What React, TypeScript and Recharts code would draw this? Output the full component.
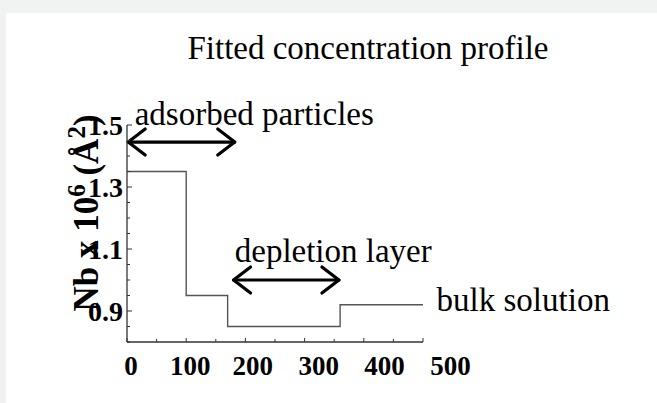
import React from 'react';
import { LineChart, Line, XAxis, YAxis, ReferenceLine, ReferenceDot } from 'recharts';

// step profile: thickness (x) vs Nb x 10^6
const stepX = [0, 100, 170, 360, 500];
const stepNb = [1.35, 0.95, 0.85, 0.92, 0.92];

const xTicks = [0, 50, 100, 150, 200, 250, 300, 350, 400, 450, 500];
const xLabelled = [0, 100, 200, 300, 400, 500];
const yTicks = [0.8, 0.85, 0.9, 0.95, 1.0, 1.05, 1.1, 1.15, 1.2, 1.25, 1.3, 1.35, 1.4, 1.45, 1.5];
const yLabelled = [0.9, 1.1, 1.3, 1.5];

const arrowFrom = [2, 180];
const arrowTo = [182, 358];
const arrowAt = [1.445, 1.0];

const noteText = ['adsorbed particles', 'depletion layer', 'bulk solution'];
const noteX = [13, 182, 523];
const noteY = [1.5, 1.058, 0.899];

const data = stepX.map((x, i) => ({ x, nb: stepNb[i] }));

const W = 651;
const H = 390;
const AXIS_LEFT = 121;
const AXIS_BOTTOM = 329;
const SERIF = '"Liberation Serif", "Times New Roman", serif';

const YTick = (props: any) => {
  const { y, payload } = props;
  const major = yLabelled.some((v) => Math.abs(v - payload.value) < 1e-6);
  return (
    <g>
      <line x1={AXIS_LEFT} x2={AXIS_LEFT + (major ? 5 : 3)} y1={y} y2={y} stroke="#333" strokeWidth={1} />
      {major && (
        <text x={AXIS_LEFT - 4} y={y} dy="0.35em" textAnchor="end" fontFamily={SERIF} fontWeight="bold" fontSize={28} fill="#000">
          {payload.value.toFixed(1)}
        </text>
      )}
    </g>
  );
};

const XTick = (props: any) => {
  const { x, payload } = props;
  const major = xLabelled.includes(payload.value);
  // labels in the source drift right of their ticks further along the axis
  const drift = Math.max(4, -6 + payload.value * 0.067);
  return (
    <g>
      <line x1={x} x2={x} y1={AXIS_BOTTOM} y2={AXIS_BOTTOM - (major ? 4 : 3)} stroke="#333" strokeWidth={1} />
      {major && (
        <text x={x + drift} y={AXIS_BOTTOM + 33} textAnchor="middle" fontFamily={SERIF} fontWeight="bold" fontSize={27} fill="#000">
          {payload.value}
        </text>
      )}
    </g>
  );
};

const Arrow = (props: any) => {
  const { x1, y1, x2, y2 } = props;
  const hx = 17;
  const hy = 13;
  return (
    <g stroke="#000" strokeWidth={3.2} strokeLinecap="round" strokeLinejoin="round" fill="none">
      <line x1={x1} y1={y1} x2={x2} y2={y2} />
      <polyline points={`${x1 + hx},${y1 - hy} ${x1},${y1} ${x1 + hx},${y1 + hy}`} />
      <polyline points={`${x2 - hx},${y2 - hy} ${x2},${y2} ${x2 - hx},${y2 + hy}`} />
    </g>
  );
};

const noteShape = (text: string) => (props: any) => (
  <text x={props.cx} y={props.cy} fontFamily={SERIF} fontSize={33} fill="#000">
    {text}
  </text>
);

const YLabel = () => (
  <text
    transform={`translate(92, 200) rotate(-90)`}
    textAnchor="middle"
    fontFamily={SERIF}
    fontWeight="bold"
    fontSize={35}
    fill="#000"
  >
    Nb x 10
    <tspan fontSize={25} dy={-13}>6</tspan>
    <tspan dy={13}> (Å</tspan>
    <tspan fontSize={25} dy={-13}>2</tspan>
    <tspan dy={13}>)</tspan>
  </text>
);

const App = () => {
  return (
    <div style={{ position: 'absolute', left: 0, top: 0, width: 657, height: 403, background: '#f1f2f2' }}>
      <div style={{ position: 'absolute', left: 6, top: 13, width: W, height: H, background: '#fff' }}>
        <LineChart width={W} height={H} data={data} margin={{ top: 112, right: 234, bottom: 31, left: 61 }}>
          <text x={362} y={46} textAnchor="middle" fontFamily={SERIF} fontSize={33} fill="#000">
            Fitted concentration profile
          </text>
          <XAxis
            type="number"
            dataKey="x"
            domain={[0, 500]}
            ticks={xTicks}
            interval={0}
            height={30}
            tickLine={false}
            tick={<XTick />}
            axisLine={{ stroke: '#333', strokeWidth: 1.3 }}
          />
          <YAxis
            type="number"
            domain={[0.8, 1.5]}
            ticks={yTicks}
            interval={0}
            width={60}
            tickLine={false}
            tick={<YTick />}
            axisLine={{ stroke: '#333', strokeWidth: 1.3 }}
            label={<YLabel />}
          />
          <Line
            type="stepAfter"
            dataKey="nb"
            stroke="#555"
            strokeWidth={1.4}
            dot={false}
            isAnimationActive={false}
          />
          {arrowFrom.map((from, i) => (
            <ReferenceLine
              key={`arrow-${i}`}
              segment={[{ x: from, y: arrowAt[i] }, { x: arrowTo[i], y: arrowAt[i] }]}
              ifOverflow="visible"
              shape={(p: any) => <Arrow {...p} />}
            />
          ))}
          {noteText.map((text, i) => (
            <ReferenceDot
              key={`note-${i}`}
              x={noteX[i]}
              y={noteY[i]}
              r={0}
              ifOverflow="visible"
              shape={noteShape(text)}
            />
          ))}
        </LineChart>
      </div>
    </div>
  );
};

export default App;
